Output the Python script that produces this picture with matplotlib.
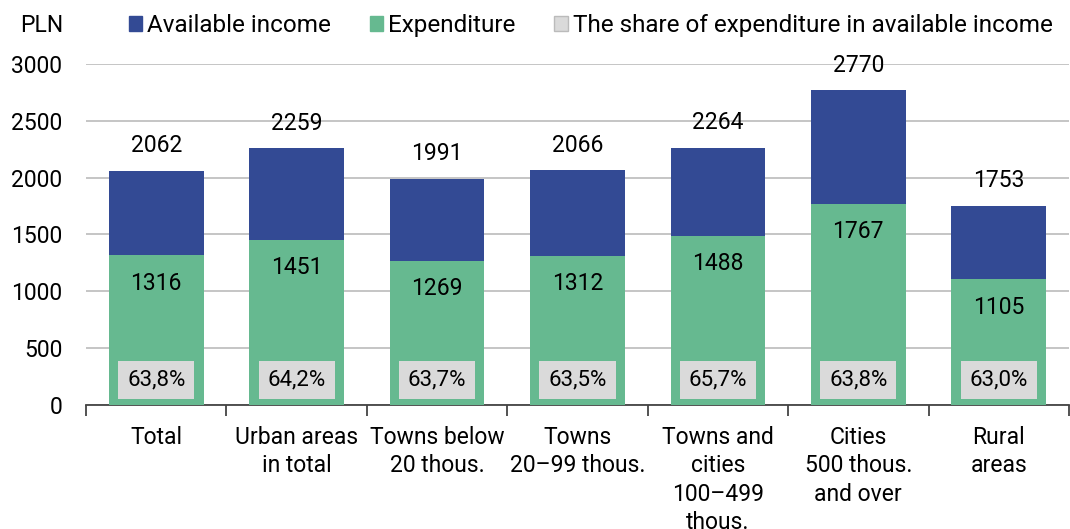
import matplotlib.pyplot as plt
import numpy as np

plt.rcParams['font.family'] = ['Roboto', 'DejaVu Sans']

# Data
categories = ["Total", "Urban areas\nin total", "Towns below\n20 thous.", "Towns\n20–99 thous.",
              "Towns and\ncities\n100–499\nthous.", "Cities\n500 thous.\nand over", "Rural\nareas"]
income = [2062, 2259, 1991, 2066, 2264, 2770, 1753]
expenditure = [1316, 1451, 1269, 1312, 1488, 1767, 1105]
share = ["63,8%", "64,2%", "63,7%", "63,5%", "65,7%", "63,8%", "63,0%"]

blue = "#334a94"
green = "#66b990"
grey = "#dadada"

fig = plt.figure(figsize=(10.7, 5.29), dpi=100)
ax = fig.add_axes([0.0804, 0.2344, 0.9186, 0.6447])

x = np.arange(len(categories))
w = 0.675
ax.bar(x, income, width=w, color=blue, zorder=2, label="Available income")
ax.bar(x, expenditure, width=w, color=green, zorder=3, label="Expenditure")

for i in x:
    ax.annotate(str(income[i]), (i, income[i]), xytext=(0, 18), textcoords="offset points",
                ha="center", va="center", fontsize=16.5)
    ax.annotate(str(expenditure[i]), (i, expenditure[i]), xytext=(0, -20), textcoords="offset points",
                ha="center", va="center", fontsize=16.5)
    ax.text(i, 220, share[i], ha="center", va="center", fontsize=16, zorder=5,
            bbox=dict(boxstyle="square,pad=0.4", fc=grey, ec="none"))

ax.set_xlim(-0.5, len(categories) - 0.5)
ax.set_ylim(0, 3000)
ax.set_yticks(range(0, 3001, 500))
ax.yaxis.grid(True, color="#c0c0c0", linewidth=1.3, zorder=0)
ax.set_axisbelow(True)
ax.tick_params(axis="y", length=0, labelsize=16.5, pad=17)
for s in ["top", "right", "left"]:
    ax.spines[s].set_visible(False)
ax.spines["bottom"].set_color("#444444")
ax.spines["bottom"].set_linewidth(1.3)

ax.set_xticks(x)
ax.set_xticklabels(categories, fontsize=16.5, linespacing=1.3, va="top")
ax.tick_params(axis="x", length=0, pad=15)
ax.set_xticks(np.arange(-0.5, len(categories), 1), minor=True)
ax.tick_params(axis="x", which="minor", length=8, width=1.3, color="#444444")

fig.text(0.059, 0.952, "PLN", ha="right", va="center", fontsize=16.5)

handles = [plt.Rectangle((0, 0), 1, 1, color=blue),
           plt.Rectangle((0, 0), 1, 1, color=green),
           plt.Rectangle((0, 0), 1, 1, fc=grey, ec="#bbbbbb")]
fig.legend(handles, ["Available income", "Expenditure", "The share of expenditure in available income"],
           loc="center", bbox_to_anchor=(0.552, 0.952), ncol=3, frameon=False, fontsize=17.5,
           handlelength=0.55, handleheight=0.55, handletextpad=0.2, columnspacing=1.6)

fig.savefig("out.png", dpi=100)
